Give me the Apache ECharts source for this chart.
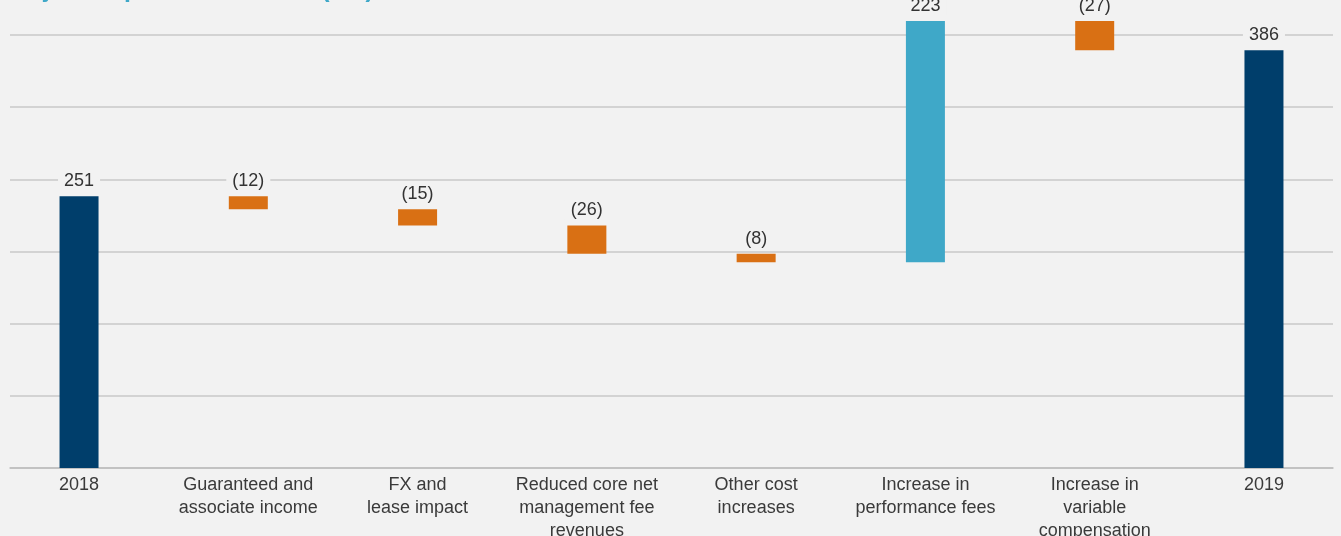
<!DOCTYPE html>
<html>
<head>
<meta charset="utf-8">
<script src="https://cdn.jsdelivr.net/npm/echarts@6/dist/echarts.min.js"></script>
<style>
  html, body { margin: 0; padding: 0; background: #f2f2f2; }
  #chart { width: 1341px; height: 536px; }
</style>
</head>
<body>
<div id="chart"></div>
<script>
// Adjusted profit before tax bridge, 2018 to 2019 (£m)
const categories = [
  '2018',
  'Guaranteed and\nassociate income',
  'FX and\nlease impact',
  'Reduced core net\nmanagement fee\nrevenues',
  'Other cost\nincreases',
  'Increase in\nperformance fees',
  'Increase in\nvariable\ncompensation',
  '2019'
];
// totals for the first and last columns, movements in between
const amounts = [251, -12, -15, -26, -8, 223, -27, 386];
const kinds = ['total', 'change', 'change', 'change', 'change', 'change', 'change', 'total'];
const yTicks = [0, 400];

const COLORS = { total: '#003e6b', down: '#d97014', up: '#3fa8c8' };
const FONT = '"Liberation Sans", Arial, sans-serif';

// floating bars: invisible base + visible segment
const baseData = [];
const barData = [];
let running = 0;
amounts.forEach((v, i) => {
  if (kinds[i] === 'total') {
    running = v;
    baseData.push(0);
    barData.push({ value: v, label: String(v), itemStyle: { color: COLORS.total } });
  } else {
    const next = running + v;
    baseData.push(Math.min(running, next));
    barData.push({
      value: Math.abs(v),
      label: v < 0 ? '(' + Math.abs(v) + ')' : String(v),
      itemStyle: { color: v < 0 ? COLORS.down : COLORS.up }
    });
    running = next;
  }
});

const chart = echarts.init(document.getElementById('chart'), null, { renderer: 'canvas' });
const yMin = yTicks[0], yMax = yTicks[1];

chart.setOption({
  backgroundColor: '#f2f2f2',
  animation: false,
  graphic: [{
    type: 'text',
    left: 10,
    top: -22,
    style: {
      text: 'Adjusted profit before tax (£m)',
      font: 'bold 25px ' + FONT,
      fill: '#3fa8c8'
    }
  }],
  grid: [
    { left: 10, right: 8, top: 35, bottom: 68, outerBoundsMode: 'none', containLabel: false },
    { left: -5.6, right: -7.6, top: 35, bottom: 68, outerBoundsMode: 'none', containLabel: false }
  ],
  xAxis: [
    {
      gridIndex: 0, type: 'category', data: categories,
      axisLine: { show: true, lineStyle: { color: '#bdbdbd', width: 1.5 } },
      axisTick: { show: false }, axisLabel: { show: false }, splitLine: { show: false }
    },
    {
      gridIndex: 1, type: 'category', data: categories,
      axisLine: { show: false }, axisTick: { show: false },
      axisLabel: {
        interval: 0, margin: 6,
        color: '#3a3a3a', fontFamily: FONT, fontSize: 18, lineHeight: 23
      }
    }
  ],
  yAxis: [
    {
      gridIndex: 0, type: 'value', min: yMin, max: yMax, interval: (yMax - yMin) / 6,
      axisLine: { show: false }, axisTick: { show: false }, axisLabel: { show: false },
      splitLine: { show: true, lineStyle: { color: '#c8c8c8', width: 1.5 } }
    },
    {
      gridIndex: 1, type: 'value', min: yMin, max: yMax, interval: (yMax - yMin) / 6,
      axisLine: { show: false }, axisTick: { show: false }, axisLabel: { show: false },
      splitLine: { show: false }
    }
  ],
  series: [
    {
      type: 'bar', xAxisIndex: 1, yAxisIndex: 1, stack: 'bridge',
      data: baseData, barWidth: 39, clip: false, silent: true,
      itemStyle: { color: 'transparent' }
    },
    {
      type: 'bar', xAxisIndex: 1, yAxisIndex: 1, stack: 'bridge',
      data: barData, barWidth: 39, clip: false,
      label: {
        show: true, position: 'top', distance: 6,
        formatter: p => p.data.label,
        color: '#333', fontFamily: FONT, fontSize: 18,
        backgroundColor: '#f2f2f2', padding: [1, 6, 0, 6]
      }
    }
  ]
});
</script>
</body>
</html>
